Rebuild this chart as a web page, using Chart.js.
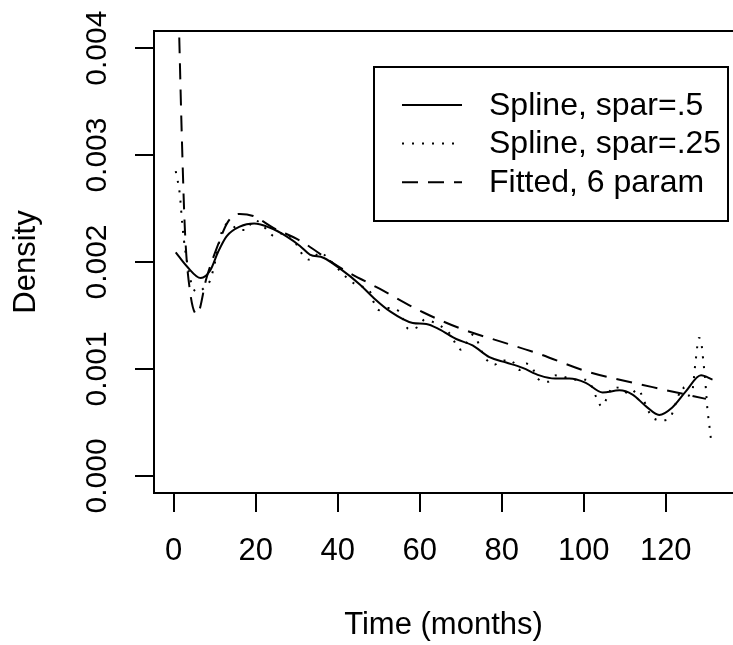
<!DOCTYPE html>
<html>
<head>
<meta charset="utf-8">
<script src="https://cdn.jsdelivr.net/npm/chart.js@4"></script>
<style>
  body { margin: 0; background: #fff; }
  canvas { display: block; }
</style>
</head>
<body>
<canvas id="densityChart" width="733" height="645"></canvas>
<script>
// spline, spar = .5
const timeSpline5 = [0.5, 3.2, 6.6, 8.9, 10.9, 12.9, 16.1, 19.6, 23.5, 27.5, 30.8, 33.2, 36.5, 40.5, 45.4, 48.6, 52.7, 58.3, 61.6, 64.8, 68.9, 72.9, 77.0, 81.1, 85.1, 89.2, 93.0, 96.5, 100.5, 104.6, 108.7, 111.9, 115.2, 118.4, 121.6, 124.9, 128.6, 131.4];
const densSpline5 = [0.00209, 0.00196, 0.00185, 0.00192, 0.00210, 0.00224, 0.00233, 0.00236, 0.00232, 0.00224, 0.00215, 0.00207, 0.00204, 0.00194, 0.00179, 0.00167, 0.00154, 0.00143, 0.00142, 0.00137, 0.00128, 0.00122, 0.00111, 0.00106, 0.00101, 0.00094, 0.00091, 0.00091, 0.00087, 0.00078, 0.00080, 0.00076, 0.00065, 0.00057, 0.00064, 0.00079, 0.00094, 0.00090];

// spline, spar = .25
const timeSpline25 = [0.5, 1.5, 2.1, 2.75, 4.0, 4.8, 6.0, 7.2, 8.8, 9.6, 12.1, 13.7, 15.7, 17.8, 19.4, 21.0, 23.0, 24.6, 26.7, 29.1, 32.0, 33.6, 35.6, 38.0, 40.5, 42.9, 44.9, 47.8, 48.6, 50.1, 52.3, 54.9, 57.4, 59.4, 61.2, 63.2, 67.1, 70.1, 72.9, 76.0, 78.2, 80.3, 82.3, 84.2, 86.0, 87.6, 88.8, 91.2, 93.2, 98.1, 100.5, 102.2, 103.1, 104.4, 105.8, 107.0, 109.5, 111.1, 113.3, 114.5, 115.6, 116.9, 119.4, 121.3, 122.9, 124.1, 125.3, 126.4, 127.3, 128.1, 128.6, 129.2, 129.7, 130.1, 130.7, 131.0];
const densSpline25 = [0.00285, 0.00263, 0.00235, 0.00213, 0.00185, 0.00175, 0.00172, 0.00175, 0.00182, 0.00192, 0.00232, 0.00236, 0.00230, 0.00230, 0.00239, 0.00237, 0.00229, 0.00224, 0.00227, 0.00221, 0.00204, 0.00202, 0.00209, 0.00202, 0.00192, 0.00183, 0.00178, 0.00173, 0.00164, 0.00155, 0.00157, 0.00154, 0.00137, 0.00139, 0.00146, 0.00144, 0.00134, 0.00118, 0.00132, 0.00110, 0.00104, 0.00108, 0.00108, 0.00099, 0.00105, 0.00100, 0.00091, 0.00088, 0.00094, 0.00090, 0.00090, 0.00082, 0.00073, 0.00065, 0.00074, 0.00083, 0.00081, 0.00076, 0.00081, 0.00072, 0.00062, 0.00054, 0.00052, 0.00056, 0.00073, 0.00083, 0.00075, 0.00078, 0.00108, 0.00129, 0.00126, 0.00106, 0.00086, 0.00065, 0.00045, 0.00035];

// fitted, 6 param
const timeFitted = [1.36, 1.95, 2.75, 3.97, 5.7, 8.0, 10.5, 13.3, 16.1, 19.4, 24.3, 30.8, 40.5, 50.2, 60.8, 70.5, 79.4, 89.2, 100.5, 116.8, 129.8];
const densFitted = [0.00410, 0.00322, 0.00229, 0.00173, 0.00151, 0.00185, 0.00213, 0.00238, 0.00245, 0.00243, 0.00232, 0.00220, 0.00195, 0.00175, 0.00153, 0.00137, 0.00126, 0.00114, 0.00098, 0.00083, 0.00072];

const seriesNames = ["Spline, spar=.5", "Spline, spar=.25", "Fitted, 6 param"];
const xTicks = [0, 20, 40, 60, 80, 100, 120];
const yTicks = [0, 0.001, 0.002, 0.003, 0.004];

const toPoints = (xs, ys) => xs.map((x, i) => ({x: x, y: ys[i]}));

const dashes = [[], [2, 8], [16, 10]];
const fontFamily = "'Liberation Sans', Arial, sans-serif";

// R style box around the plot region (right side runs off the page)
const frame = {
  id: "frame",
  afterDatasetsDraw(chart) {
    const a = chart.chartArea;
    const ctx = chart.ctx;
    ctx.save();
    ctx.strokeStyle = "#000";
    ctx.lineWidth = 2;
    ctx.strokeRect(a.left, a.top, chart.width + 10 - a.left, a.bottom - a.top);
    ctx.restore();
  }
};

// legend box like R's legend()
const boxLegend = {
  id: "boxLegend",
  afterDraw(chart) {
    const ctx = chart.ctx;
    const left = 374, top = 67, right = 728, bottom = 221;
    ctx.save();
    ctx.fillStyle = "#fff";
    ctx.fillRect(left, top, right - left, bottom - top);
    ctx.strokeStyle = "#000";
    ctx.lineWidth = 2;
    ctx.strokeRect(left, top, right - left, bottom - top);
    ctx.font = "32px " + fontFamily;
    ctx.fillStyle = "#000";
    ctx.textBaseline = "middle";
    chart.data.datasets.forEach((ds, i) => {
      const y = 105 + i * 38.6;
      ctx.setLineDash(ds.borderDash);
      ctx.beginPath();
      ctx.moveTo(402, y);
      ctx.lineTo(462, y);
      ctx.stroke();
      ctx.setLineDash([]);
      ctx.fillText(ds.label, 489, y + 1);
    });
    ctx.restore();
  }
};

new Chart(document.getElementById("densityChart"), {
  type: "scatter",
  data: {
    datasets: [
      {label: seriesNames[0], data: toPoints(timeSpline5, densSpline5)},
      {label: seriesNames[1], data: toPoints(timeSpline25, densSpline25)},
      {label: seriesNames[2], data: toPoints(timeFitted, densFitted)}
    ].map((ds, i) => Object.assign(ds, {
      showLine: true,
      borderColor: "#000",
      borderWidth: 2,
      borderDash: dashes[i],
      pointRadius: 0,
      cubicInterpolationMode: "monotone"
    }))
  },
  options: {
    responsive: false,
    animation: false,
    devicePixelRatio: 1,
    layout: {padding: {top: 31, right: 0, left: 0, bottom: 0}},
    plugins: {legend: {display: false}, tooltip: {enabled: false}},
    scales: {
      x: {
        type: "linear",
        min: -4.8,
        max: 136.4,
        afterBuildTicks: s => { s.ticks = xTicks.map(v => ({value: v})); },
        afterFit: s => { s.height = 152; },
        grid: {drawOnChartArea: false, tickLength: 19, color: "#000", lineWidth: 2},
        border: {display: false},
        ticks: {
          color: "#000",
          padding: 21,
          maxRotation: 0,
          autoSkip: false,
          font: {family: fontFamily, size: 31}
        },
        title: {
          display: true,
          text: "Time (months)",
          color: "#000",
          padding: {top: 0, bottom: 1},
          font: {family: fontFamily, size: 31}
        }
      },
      y: {
        min: -0.00016,
        max: 0.00416,
        afterBuildTicks: s => { s.ticks = yTicks.map(v => ({value: v})); },
        afterFit: s => { s.width = 154; },
        grid: {drawOnChartArea: false, tickLength: 19, color: "#000", lineWidth: 2},
        border: {display: false},
        ticks: {
          color: "#000",
          padding: 0,
          minRotation: 90,
          maxRotation: 90,
          crossAlign: "center",
          autoSkip: false,
          callback: v => v.toFixed(3),
          font: {family: fontFamily, size: 30}
        },
        title: {
          display: true,
          text: "Density",
          color: "#000",
          padding: {top: 8, bottom: 0},
          font: {family: fontFamily, size: 31}
        }
      }
    }
  },
  plugins: [frame, boxLegend]
});
</script>
</body>
</html>
